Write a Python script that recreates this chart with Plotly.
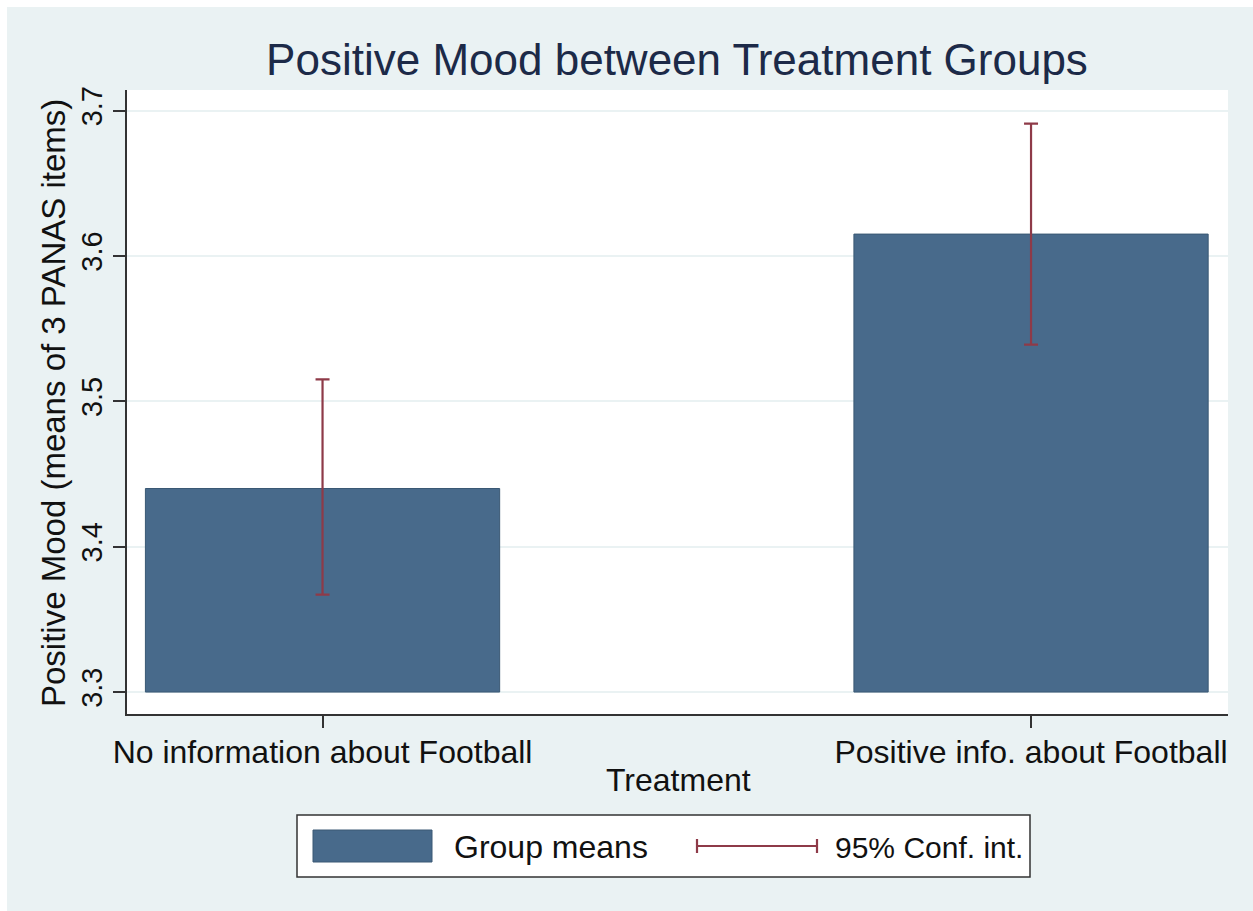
import plotly.graph_objects as go

# Group means and 95% confidence limits of the positive-mood score
groups = ["No information about Football", "Positive info. about Football"]
means = [3.440, 3.615]
ci_low = [3.367, 3.539]
ci_high = [3.515, 3.691]
y_ticks = [3.3, 3.4, 3.5, 3.6, 3.7]
base_value = 3.3

W, H = 1253, 911
L, R, T, B = 127, 25, 90, 197
PW, PH = W - L - R, H - T - B

BG = "#EAF2F3"
BAR = "#486A8B"
CI = "#8E3A48"
FONT = "Liberation Sans, Arial, sans-serif"


def px(x):
    return (x - L) / PW


def py(y):
    return (H - B - y) / PH


xpos = list(range(len(groups)))
heights = [m - base_value for m in means]
err_plus = [h - m for h, m in zip(ci_high, means)]
err_minus = [m - lo for m, lo in zip(means, ci_low)]

fig = go.Figure()
fig.add_trace(go.Bar(
    x=xpos, y=heights, base=base_value, width=0.5,
    marker=dict(color=BAR, line=dict(color="#3A5874", width=1)),
    error_y=dict(type="data", symmetric=False, array=err_plus, arrayminus=err_minus,
                 color=CI, thickness=2.2, width=7),
    showlegend=False, hoverinfo="skip",
))

shapes = [
    # thin white frame at the top-left edge of the canvas
    dict(type="rect", xref="paper", yref="paper", x0=px(0), x1=px(W), y0=py(7), y1=py(0),
         fillcolor="white", line=dict(width=0), layer="above"),
    dict(type="rect", xref="paper", yref="paper", x0=px(0), x1=px(7), y0=py(H), y1=py(0),
         fillcolor="white", line=dict(width=0), layer="above"),
    # legend box
    dict(type="rect", xref="paper", yref="paper", x0=px(297), x1=px(1030), y0=py(877), y1=py(815),
         fillcolor="white", line=dict(color="#333333", width=1.5)),
    dict(type="rect", xref="paper", yref="paper", x0=px(313), x1=px(432), y0=py(862), y1=py(830),
         fillcolor=BAR, line=dict(color="#3A5874", width=1)),
    dict(type="line", xref="paper", yref="paper", x0=px(697), x1=px(817), y0=py(846), y1=py(846),
         line=dict(color=CI, width=2.2)),
    dict(type="line", xref="paper", yref="paper", x0=px(697), x1=px(697), y0=py(839), y1=py(853),
         line=dict(color=CI, width=2.2)),
    dict(type="line", xref="paper", yref="paper", x0=px(817), x1=px(817), y0=py(839), y1=py(853),
         line=dict(color=CI, width=2.2)),
]

annotations = [
    dict(text="Positive Mood (means of 3 PANAS items)", xref="paper", yref="paper",
         x=px(53), y=py(403), textangle=-90, showarrow=False,
         font=dict(family=FONT, size=33, color="#111111"), xanchor="center", yanchor="middle"),
    dict(text="Treatment", xref="paper", yref="paper", x=px(678), y=py(780),
         showarrow=False, font=dict(family=FONT, size=32, color="#111111"),
         xanchor="center", yanchor="middle"),
    dict(text="Group means", xref="paper", yref="paper", x=px(452), y=py(847),
         showarrow=False, font=dict(family=FONT, size=32, color="#111111"),
         xanchor="left", yanchor="middle"),
    dict(text="95% Conf. int.", xref="paper", yref="paper", x=px(833), y=py(847),
         showarrow=False, font=dict(family=FONT, size=30, color="#111111"),
         xanchor="left", yanchor="middle"),
]

fig.update_layout(
    width=W, height=H,
    margin=dict(l=L, r=R, t=T, b=B, pad=0),
    paper_bgcolor=BG, plot_bgcolor="white",
    title=dict(text="Positive Mood between Treatment Groups", xref="container", yref="container",
               x=677 / W, y=1 - 60 / H, xanchor="center", yanchor="middle",
               font=dict(family=FONT, size=44, color="#1C2A48")),
    shapes=shapes, annotations=annotations,
    showlegend=False,
    xaxis=dict(
        range=[-0.276, 1.278], tickmode="array", tickvals=xpos, ticktext=groups,
        showgrid=False, zeroline=False, showline=True, linecolor="#333333", linewidth=1.5,
        ticks="outside", ticklen=12, tickwidth=1.5, tickcolor="#333333",
        ticklabelstandoff=-3,
        tickfont=dict(family=FONT, size=32, color="#111111"),
    ),
    yaxis=dict(
        range=[3.2849, 3.7141], tickmode="array", tickvals=y_ticks,
        ticktext=[f"{v:.1f}" for v in y_ticks], tickangle=-90,
        showgrid=True, gridcolor=BG, gridwidth=2, zeroline=False,
        showline=True, linecolor="#333333", linewidth=1.5,
        ticks="outside", ticklen=12, tickwidth=1.5, tickcolor="#333333",
        tickfont=dict(family=FONT, size=29, color="#111111"),
    ),
)

fig.write_html("out.html")
